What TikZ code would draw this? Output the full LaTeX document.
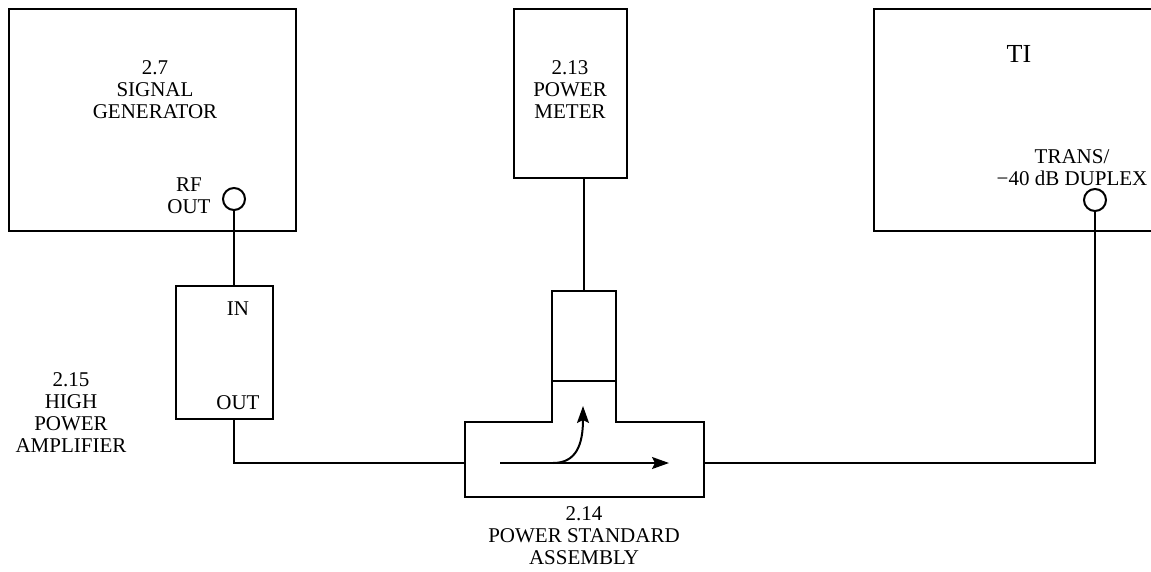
\documentclass[tikz,border=0pt]{standalone}
\usepackage{fontspec}
\setmainfont{Liberation Serif}
\usetikzlibrary{arrows.meta}
\begin{document}
\begin{tikzpicture}[x=1pt,y=-1pt,
  wire/.style={line width=2pt},
  box/.style={draw,line width=2pt,rectangle,inner sep=0pt},
  port/.style={draw,line width=2pt,circle,minimum size=22pt,inner sep=0pt},
  lbl/.style={align=center,inner sep=0pt,font=\fontsize{21}{22}\selectfont},
  flow/.style={line width=2pt,-{Stealth[length=17pt,width=12pt,inset=3pt]}}]
\useasboundingbox (0,0) rectangle (1151,571);
% signal generator
\node[box,minimum width=287pt,minimum height=222pt] (sg) at (152.5,120) {};
\node[lbl] (sgtxt) at (155,90) {2.7\\SIGNAL\\GENERATOR};
\node[lbl] (rftxt) at (189,196) {RF\\OUT};
\node[port] (rf) at (234,199) {};
% amplifier
\node[box,minimum width=97pt,minimum height=133pt] (amp) at (224.5,352.5) {};
\node[lbl] (intxt) at (238,309) {IN};
\node[lbl] (outtxt) at (238,403) {OUT};
\node[lbl] (amptxt) at (71,413) {2.15\\HIGH\\POWER\\AMPLIFIER};
% power meter
\node[box,minimum width=113pt,minimum height=169pt] (pm) at (570.5,93.5) {};
\node[lbl] (pmtxt) at (570,90) {2.13\\POWER\\METER};
% power standard assembly
\node[box,minimum width=64pt,minimum height=90pt] (sensor) at (584,336) {};
\coordinate (teeL) at (465,463);
\coordinate (teeR) at (704,463);
\draw[wire,line join=miter] (552,381) -- (552,422) -- (465,422) -- (465,497) -- (704,497) -- (704,422) -- (616,422) -- (616,381);
\coordinate (flowA) at (500,463);
\coordinate (flowB) at (669,463);
\coordinate (bendA) at (553,463);
\coordinate (bendB) at (583,406);
\draw[flow] (flowA) -- (flowB);
\draw[flow] (bendA) .. controls (576,463) and (583,445) .. (bendB);
\node[lbl] (pstxt) at (584,536) {2.14\\POWER STANDARD\\ASSEMBLY};
% TI
\coordinate (tiTL) at (874,9);
\coordinate (tiBL) at (874,231);
\draw[wire,line join=miter] (1152,9) -- (tiTL) -- (tiBL) -- (1152,231);
\node[lbl,font=\fontsize{26}{28}\selectfont] (titxt) at (1019,54) {TI};
\node[lbl] (trtxt) at (1072,168) {TRANS/\\−40 dB DUPLEX};
\node[port] (tp) at (1095,200) {};
% connections
\draw[wire] (rf.south) -- (rf.south |- amp.north);
\draw[wire] (rf.south |- amp.south) |- (teeL);
\draw[wire] (sensor.north) -- (sensor.north |- pm.south);
\draw[wire] (tp.south) |- (teeR);
\end{tikzpicture}
\end{document}
